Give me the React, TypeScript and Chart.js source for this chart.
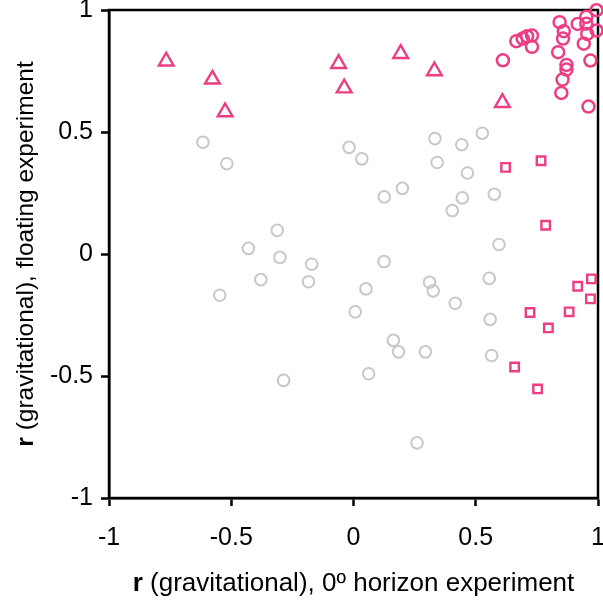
import { useEffect, useRef } from "react";
import { Chart, registerables } from "chart.js";

Chart.register(...registerables);

const PINK = "#EE3D83";
const GREY = "#C8C8C8";
const FONT_FAMILY = '"Liberation Sans", Arial, Helvetica, sans-serif';

const TICK_VALUES = [-1, -0.5, 0, 0.5, 1];
const TICK_LABELS = ["-1", "-0.5", "0", "0.5", "1"];

const TITLE_BOLD = "r";
const X_TITLE_REST = " (gravitational), 0º horizon experiment";
const Y_TITLE_REST = " (gravitational), floating experiment";

// pink circles
const pinkCircleX = [0.994, 0.952, 0.843, 0.917, 0.952, 0.994, 0.86, 0.857, 0.956, 0.942, 0.666, 0.692, 0.71, 0.73, 0.73, 0.837, 0.611, 0.969, 0.871, 0.871, 0.855, 0.85, 0.961];
const pinkCircleY = [0.999, 0.972, 0.95, 0.943, 0.944, 0.916, 0.913, 0.883, 0.902, 0.862, 0.872, 0.883, 0.892, 0.895, 0.849, 0.827, 0.794, 0.793, 0.775, 0.756, 0.715, 0.66, 0.604];

// pink triangles
const triangleX = [-0.766, -0.577, -0.525, -0.061, -0.038, 0.193, 0.331, 0.609];
const triangleY = [0.79, 0.716, 0.582, 0.78, 0.68, 0.821, 0.75, 0.62];

// pink squares
const squareX = [0.622, 0.767, 0.786, 0.973, 0.917, 0.969, 0.722, 0.882, 0.797, 0.659, 0.753];
const squareY = [0.355, 0.382, 0.118, -0.102, -0.132, -0.184, -0.24, -0.237, -0.303, -0.463, -0.553];

// grey circles
const greyX = [-0.018, 0.034, 0.333, 0.443, 0.527, 0.342, 0.466, 0.2, 0.126, 0.445, 0.404, 0.576, 0.595, 0.125, 0.051, 0.311, 0.326, 0.555, 0.416, 0.007, 0.559, 0.163, 0.184, 0.294, 0.565, 0.062, 0.26, -0.616, -0.518, -0.312, -0.43, -0.301, -0.171, -0.379, -0.184, -0.547, -0.286];
const greyY = [0.437, 0.39, 0.473, 0.448, 0.495, 0.375, 0.332, 0.269, 0.234, 0.23, 0.178, 0.245, 0.039, -0.031, -0.143, -0.116, -0.151, -0.1, -0.202, -0.237, -0.268, -0.354, -0.401, -0.401, -0.416, -0.491, -0.774, 0.458, 0.37, 0.097, 0.023, -0.014, -0.042, -0.105, -0.114, -0.169, -0.518];

const zip = (xs: number[], ys: number[]) => xs.map((x, i) => ({ x, y: ys[i] }));

const boxPlugin = {
  id: "box",
  beforeDatasetsDraw(chart: any) {
    const { ctx, chartArea } = chart;
    ctx.save();
    ctx.strokeStyle = "#000";
    ctx.lineWidth = 2.5;
    ctx.strokeRect(chartArea.left, chartArea.top, chartArea.right - chartArea.left, chartArea.bottom - chartArea.top);
    ctx.restore();
  },
};

const titlePlugin = {
  id: "titles",
  afterDraw(chart: any) {
    const { ctx, chartArea } = chart;
    ctx.save();
    ctx.fillStyle = "#000";
    ctx.textBaseline = "alphabetic";
    ctx.textAlign = "left";
    // x title
    let size = 26;
    ctx.font = `bold ${size}px ${FONT_FAMILY}`;
    let wb = ctx.measureText(TITLE_BOLD).width;
    ctx.font = `${size}px ${FONT_FAMILY}`;
    const wx = ctx.measureText(X_TITLE_REST).width;
    const cx = (chartArea.left + chartArea.right) / 2;
    const x0 = cx - (wb + wx) / 2;
    const baseY = 591;
    ctx.font = `bold ${size}px ${FONT_FAMILY}`;
    ctx.fillText(TITLE_BOLD, x0, baseY);
    ctx.font = `${size}px ${FONT_FAMILY}`;
    ctx.fillText(X_TITLE_REST, x0 + wb, baseY);
    // y title
    size = 24.5;
    ctx.font = `bold ${size}px ${FONT_FAMILY}`;
    wb = ctx.measureText(TITLE_BOLD).width;
    ctx.font = `${size}px ${FONT_FAMILY}`;
    const wy = ctx.measureText(Y_TITLE_REST).width;
    const cy = (chartArea.top + chartArea.bottom) / 2;
    ctx.translate(33, cy);
    ctx.rotate(-Math.PI / 2);
    const y0 = -(wb + wy) / 2;
    ctx.font = `bold ${size}px ${FONT_FAMILY}`;
    ctx.fillText(TITLE_BOLD, y0, 0);
    ctx.font = `${size}px ${FONT_FAMILY}`;
    ctx.fillText(Y_TITLE_REST, y0 + wb, 0);
    ctx.restore();
  },
};

const tickFont = { family: FONT_FAMILY, size: 25 };

const zeroPad = (s: any) => {
  s.paddingLeft = 0;
  s.paddingRight = 0;
  s.paddingTop = 0;
  s.paddingBottom = 0;
};

const axisCommon = (padding: number) => ({
  type: "linear" as const,
  min: -1,
  max: 1,
  afterBuildTicks: (s: any) => {
    s.ticks = TICK_VALUES.map((v) => ({ value: v }));
  },
  ticks: {
    callback: (v: any) => {
      const i = TICK_VALUES.indexOf(Number(v));
      return i >= 0 ? TICK_LABELS[i] : "";
    },
    font: tickFont,
    color: "#000",
    padding,
    maxRotation: 0,
    autoSkip: false,
  },
  grid: {
    drawOnChartArea: false,
    drawTicks: true,
    tickLength: 8,
    tickWidth: 2.5,
    tickColor: "#000",
    color: "#000",
  },
  border: { display: true, color: "#000", width: 2.5 },
});

export default function App() {
  const ref = useRef<HTMLCanvasElement>(null);
  useEffect(() => {
    const canvas = ref.current!;
    const chart = new Chart(canvas, {
      type: "scatter",
      data: {
        datasets: [
          {
            label: "grey",
            data: zip(greyX, greyY),
            pointStyle: "circle",
            pointRadius: 5.8,
            pointBorderWidth: 2,
            borderColor: GREY,
            backgroundColor: "rgba(0,0,0,0)",
            clip: false,
          } as any,
          {
            label: "squares",
            data: zip(squareX, squareY),
            pointStyle: "rect",
            pointRadius: 6,
            pointBorderWidth: 2.4,
            borderColor: PINK,
            backgroundColor: "rgba(0,0,0,0)",
            clip: false,
          },
          {
            label: "triangles",
            data: zip(triangleX, triangleY),
            pointStyle: "triangle",
            pointRadius: 8.5,
            pointBorderWidth: 2.4,
            borderColor: PINK,
            backgroundColor: "rgba(0,0,0,0)",
            clip: false,
          },
          {
            label: "circles",
            data: zip(pinkCircleX, pinkCircleY),
            pointStyle: "circle",
            pointRadius: 6,
            pointBorderWidth: 2.5,
            borderColor: PINK,
            backgroundColor: "rgba(0,0,0,0)",
            clip: false,
          },
        ],
      },
      options: {
        animation: false,
        responsive: false,
        devicePixelRatio: 1,
        layout: { autoPadding: false, padding: { top: 10, right: 5, left: 0, bottom: 0 } },
        plugins: { legend: { display: false }, tooltip: { enabled: false } },
        scales: {
          x: {
            ...axisCommon(17),
            position: "bottom",
            afterFit: (s: any) => {
              s.height = 108;
              zeroPad(s);
            },
          },
          y: {
            ...axisCommon(8),
            position: "left",
            afterFit: (s: any) => {
              s.width = 109;
              zeroPad(s);
            },
          },
        },
      } as any,
      plugins: [boxPlugin, titlePlugin],
    });
    return () => chart.destroy();
  }, []);
  return (
    <canvas
      ref={ref}
      width={603}
      height={606}
      style={{ position: "absolute", left: 0, top: 0, display: "block", width: 603, height: 606 }}
    />
  );
}
